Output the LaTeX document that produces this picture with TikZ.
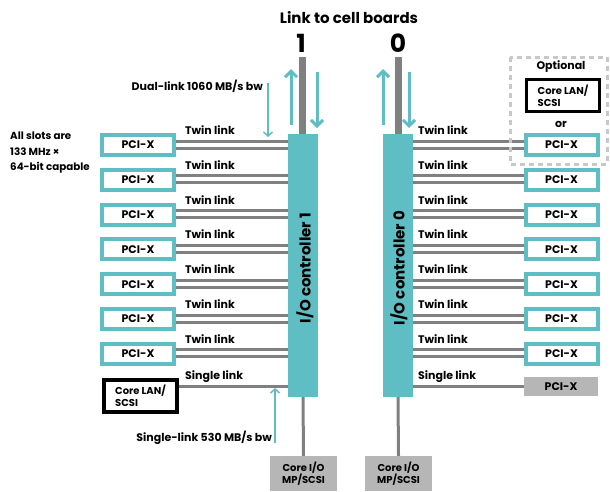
\documentclass[tikz,border=0pt]{standalone}
\usepackage{fontspec}
\setmainfont{Poppins}
\usetikzlibrary{arrows.meta,calc}
\definecolor{tealc}{RGB}{95,190,196}
\definecolor{linkgray}{RGB}{128,128,128}
\definecolor{boxgray}{RGB}{182,182,182}
\definecolor{dashgray}{RGB}{200,200,200}
\newcommand{\fs}[1]{\fontsize{#1}{#1}\selectfont}
\begin{document}
\begin{tikzpicture}[x=1pt,y=-1pt,
  pcix/.style={draw=tealc,line width=4,fill=white,minimum width=72,minimum height=20,inner sep=0,font=\fs{11}\bfseries},
  graybox/.style={fill=boxgray,minimum width=74,minimum height=19,inner sep=0,font=\fs{11}\bfseries},
  lanbox/.style={draw=black,line width=3.5,fill=white,minimum width=73,minimum height=32,inner sep=0,align=left,font=\fontsize{10}{12}\selectfont\bfseries},
  iobox/.style={fill=boxgray,minimum width=67,minimum height=35,inner sep=0,align=center,font=\fontsize{10}{12.5}\selectfont\bfseries},
  ctrl/.style={fill=tealc,minimum width=30,minimum height=263,inner sep=0},
  ctrltext/.style={font=\fs{15}\bfseries,rotate=90},
  link/.style={draw=linkgray,line width=3},
  bus/.style={draw=linkgray,line width=7},
  stem/.style={draw=linkgray,line width=3},
  bigarrow/.style={draw=tealc,line width=3,-{Straight Barb[length=6,width=12,line width=3]}},
  smallarrow/.style={draw=tealc,line width=1.5,-{Straight Barb[length=4,width=9,line width=1.5]}},
  lbl/.style={font=\fs{11}\bfseries,anchor=west,inner sep=0},
  note/.style={font=\fs{11}\bfseries,inner sep=0}
]
\useasboundingbox (0,0) rectangle (610,491);
\fill[white] (0,0) rectangle (610,491);

% title
\node[font=\fs{15}\bfseries,inner sep=0] (title) at (349,18) {Link to cell boards};
\node[font=\fs{25}\bfseries,inner sep=0] (n1) at (301,43) {1};
\node[font=\fs{25}\bfseries,inner sep=0] (n0) at (398,43) {0};

% controllers
\node[ctrl] (c1) at (303,265.5) {};
\node[ctrl] (c0) at (398,265.5) {};
\node[ctrltext] at (305,268) {I/O controller 1};
\node[ctrltext] at (399,268) {I/O controller 0};

% buses to cell boards
\coordinate (t1) at (302,57);
\coordinate (t0) at (398,57);
\draw[bus] (t1) -- (t1 |- c1.north);
\draw[bus] (t0) -- (t0 |- c0.north);

% direction arrows
\coordinate (u1s) at (291,125); \coordinate (u1e) at (291,69);
\coordinate (d1s) at (317,72);  \coordinate (d1e) at (317,128);
\coordinate (u0s) at (383,125); \coordinate (u0e) at (383,69);
\coordinate (d0s) at (409,72);  \coordinate (d0e) at (409,128);
\draw[bigarrow] (u1s) -- (u1e);
\draw[bigarrow] (d1s) -- (d1e);
\draw[bigarrow] (u0s) -- (u0e);
\draw[bigarrow] (d0s) -- (d0e);

% PCI-X rows
\foreach \i/\y in {1/145,2/179.8,3/214.6,4/249.4,5/284.2,6/319,7/353.8}{
  \node[pcix] (L\i) at (138,\y) {PCI-X};
  \draw[link] ($(L\i.east)+(0,-4)$) -- ($(c1.west |- L\i.east)+(0,-4)$);
  \draw[link] ($(L\i.east)+(0,3)$) -- ($(c1.west |- L\i.east)+(0,3)$);
  \node[lbl] at (185,\y-15) {Twin link};
  \node[pcix] (R\i) at (561.5,\y) {PCI-X};
  \draw[link] ($(R\i.west)+(0,-4)$) -- ($(c0.east |- R\i.west)+(0,-4)$);
  \draw[link] ($(R\i.west)+(0,3)$) -- ($(c0.east |- R\i.west)+(0,3)$);
  \node[lbl] at (418,\y-15) {Twin link};
}

% single links
\node[lanbox] (lan1) at (140.5,396) {Core LAN/\\SCSI};
\coordinate (s1) at (lan1.east |- 0,386);
\draw[link] (s1) -- (s1 -| c1.west);
\node[lbl] at (185,377) {Single link};
\node[graybox] (R8) at (561,386.5) {PCI-X};
\draw[link] (R8.west) -- (R8.west -| c0.east);
\node[lbl] at (418,377) {Single link};

% core I/O
\node[iobox] (io1) at (303.5,473.5) {Core I/O\\MP/SCSI};
\node[iobox] (io0) at (398.5,473.5) {Core I/O\\MP/SCSI};
\draw[stem] (c1.south) -- (io1.north);
\draw[stem] (c0.south) -- (io0.north);

% optional
\draw[draw=dashgray,line width=3,dash pattern=on 5 off 4] (510,57) rectangle (607,164);
\node[note] (opt) at (561,67) {Optional};
\node[lanbox] (lan0) at (563,95.5) {Core LAN/\\SCSI};
\node[note] (or) at (561,124) {or};

% notes
\node[note,align=left,anchor=north west,font=\fontsize{10.3}{15.5}\selectfont\bfseries] (slots) at (10,132) {All slots are\\133 MHz ×\\64-bit capable};
\node[note,anchor=east] (dual) at (263,86) {Dual-link 1060 MB/s bw};
\coordinate (da) at (268,83); \coordinate (db) at (268,137);
\draw[smallarrow] (da) -- (db);
\node[note,anchor=east] (single) at (272,438) {Single-link 530 MB/s bw};
\coordinate (sa) at (275,443); \coordinate (sb) at (275,388);
\draw[smallarrow] (sa) -- (sb);
\end{tikzpicture}
\end{document}
